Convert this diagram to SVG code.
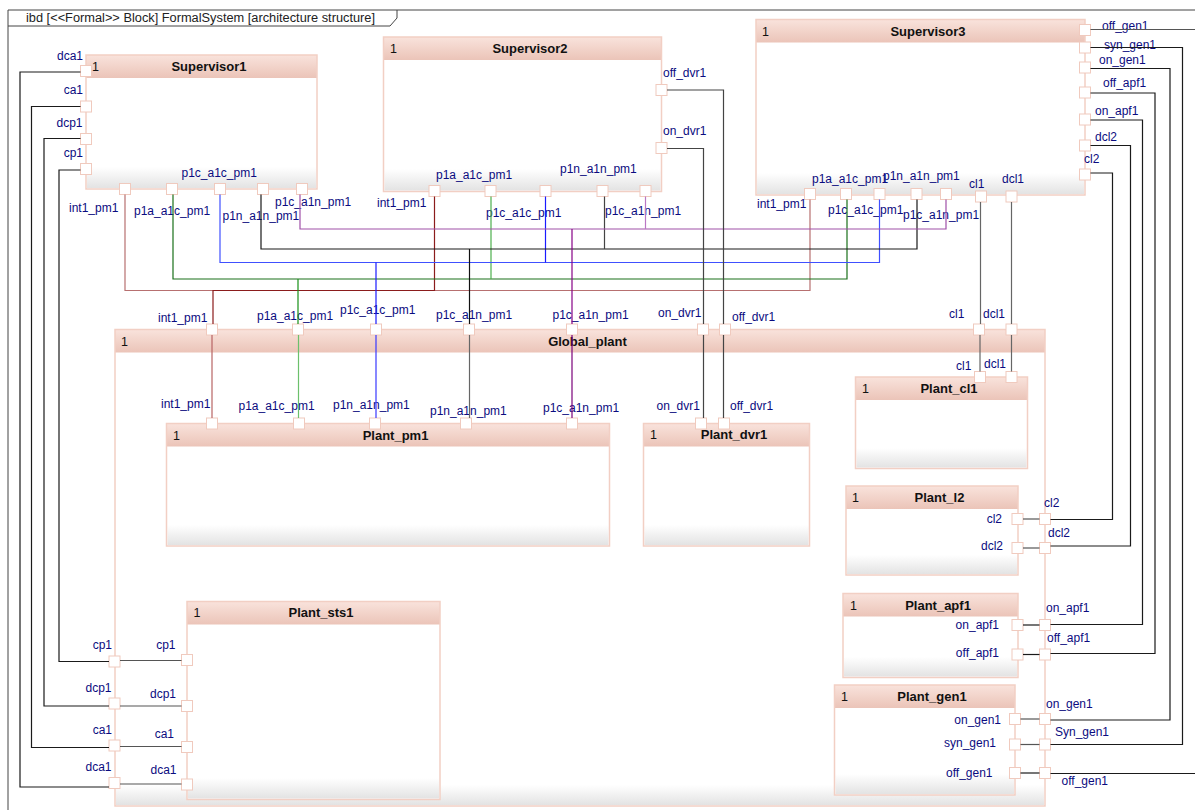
<svg xmlns="http://www.w3.org/2000/svg" width="1195" height="810" viewBox="0 0 1195 810">
<defs>
<linearGradient id="hdr" x1="0" y1="0" x2="0" y2="1"><stop offset="0" stop-color="#f9e3dc"/><stop offset="1" stop-color="#ebc4b8"/></linearGradient>
<linearGradient id="foot" x1="0" y1="0" x2="0" y2="1"><stop offset="0" stop-color="#ffffff"/><stop offset="1" stop-color="#e3e3e3"/></linearGradient>
<style>
.body{fill:#fff;stroke:none}
.foot{fill:url(#foot);stroke:none}
.hdr{fill:url(#hdr);stroke:none}
.outline{fill:none;stroke:#f2cfc4;stroke-width:1.5}
.port{fill:#fff;stroke:#f0cabe;stroke-width:1}
.num{font-family:"Liberation Sans",Arial,sans-serif;font-size:12.5px;fill:#111}
.title{font-family:"Liberation Sans",Arial,sans-serif;font-size:13px;font-weight:bold;fill:#111;text-anchor:middle}
.lbl{font-family:"Liberation Sans",Arial,sans-serif;font-size:12px;fill:#0b0b80}
.end{text-anchor:end}
.w{fill:none;stroke-width:1.2}
.k{stroke:#1a1a1a}
.g{stroke:#555}
</style>
</defs>
<rect x="0" y="0" width="1195" height="810" fill="#fff"/>

<g id="frame">
<path d="M8,810 V10 H1195" fill="none" stroke="#444" stroke-width="1"/>
<path d="M8,26 H390 L397,18 V10" fill="none" stroke="#444" stroke-width="1"/>
<text x="26" y="21.5" font-family="Liberation Sans, Arial, sans-serif" font-size="12.5" fill="#222" textLength="349" lengthAdjust="spacingAndGlyphs">ibd [&lt;&lt;Formal&gt;&gt; Block] FormalSystem [architecture structure]</text>
</g>

<g id="Global_plant">
<rect class="body" x="115" y="329.5" width="930" height="476.5"/>
<rect class="foot" x="116" y="785" width="928" height="20"/>
<rect class="hdr" x="115" y="329.5" width="930" height="23"/>
<rect class="outline" x="115" y="329.5" width="930" height="476.5"/>
<text class="num" x="121" y="346">1</text>
<text class="title" x="587.5" y="346">Global_plant</text>
<rect class="port" x="206.5" y="324" width="11" height="11"/>
<rect class="port" x="292.5" y="324" width="11" height="11"/>
<rect class="port" x="370.5" y="324" width="11" height="11"/>
<rect class="port" x="463.5" y="324" width="11" height="11"/>
<rect class="port" x="566.5" y="324" width="11" height="11"/>
<rect class="port" x="697.5" y="324" width="11" height="11"/>
<rect class="port" x="719.5" y="324" width="11" height="11"/>
<rect class="port" x="973.5" y="324" width="11" height="11"/>
<rect class="port" x="1006" y="324" width="11" height="11"/>
<rect class="port" x="109" y="656" width="11" height="11"/>
<rect class="port" x="109" y="698" width="11" height="11"/>
<rect class="port" x="109" y="740" width="11" height="11"/>
<rect class="port" x="109" y="777.5" width="11" height="11"/>
<rect class="port" x="1039.5" y="513.5" width="11" height="11"/>
<rect class="port" x="1039.5" y="542.5" width="11" height="11"/>
<rect class="port" x="1039.5" y="619.5" width="11" height="11"/>
<rect class="port" x="1039.5" y="649" width="11" height="11"/>
<rect class="port" x="1039.5" y="713.5" width="11" height="11"/>
<rect class="port" x="1039.5" y="739" width="11" height="11"/>
<rect class="port" x="1039.5" y="767.5" width="11" height="11"/>
<text class="lbl" x="158" y="322">int1_pm1</text>
<text class="lbl" x="257" y="320">p1a_a1c_pm1</text>
<text class="lbl" x="340" y="313.5">p1c_a1c_pm1</text>
<text class="lbl" x="436" y="319">p1c_a1n_pm1</text>
<text class="lbl" x="552.5" y="319">p1c_a1n_pm1</text>
<text class="lbl" x="658" y="317">on_dvr1</text>
<text class="lbl" x="732" y="320.5">off_dvr1</text>
<text class="lbl" x="949" y="317.5">cl1</text>
<text class="lbl" x="983" y="317.5">dcl1</text>
<text class="lbl end" x="112" y="649">cp1</text>
<text class="lbl end" x="111.5" y="692">dcp1</text>
<text class="lbl end" x="112" y="734">ca1</text>
<text class="lbl end" x="111.5" y="771">dca1</text>
<text class="lbl" x="1044" y="507">cl2</text>
<text class="lbl" x="1048" y="536.5">dcl2</text>
<text class="lbl" x="1046" y="611.5">on_apf1</text>
<text class="lbl" x="1047" y="642">off_apf1</text>
<text class="lbl" x="1046" y="707.5">on_gen1</text>
<text class="lbl" x="1055" y="735.5">Syn_gen1</text>
<text class="lbl" x="1061.5" y="784.5">off_gen1</text>
</g>

<g id="Supervisor1">
<rect class="body" x="86" y="55" width="231" height="134"/>
<rect class="foot" x="87" y="167" width="229" height="21"/>
<rect class="hdr" x="86" y="55" width="231" height="23"/>
<rect class="outline" x="86" y="55" width="231" height="134"/>
<text class="num" x="92" y="70.5">1</text>
<text class="title" x="209" y="70.5">Supervisor1</text>
<rect class="port" x="80.5" y="65.5" width="11" height="11"/>
<rect class="port" x="80.5" y="101" width="11" height="11"/>
<rect class="port" x="80.5" y="133.5" width="11" height="11"/>
<rect class="port" x="80.5" y="163.5" width="11" height="11"/>
<rect class="port" x="119.5" y="183.5" width="11" height="11"/>
<rect class="port" x="166.5" y="183.5" width="11" height="11"/>
<rect class="port" x="214.5" y="183.5" width="11" height="11"/>
<rect class="port" x="257.5" y="183.5" width="11" height="11"/>
<rect class="port" x="296.5" y="183.5" width="11" height="11"/>
<text class="lbl end" x="83" y="59.5">dca1</text>
<text class="lbl end" x="83" y="94">ca1</text>
<text class="lbl end" x="82.5" y="127">dcp1</text>
<text class="lbl end" x="83" y="157">cp1</text>
<text class="lbl" x="181.5" y="177">p1c_a1c_pm1</text>
<text class="lbl" x="69" y="212">int1_pm1</text>
<text class="lbl" x="134" y="214.5">p1a_a1c_pm1</text>
<text class="lbl" x="222.5" y="220">p1n_a1n_pm1</text>
<text class="lbl" x="275" y="206">p1c_a1n_pm1</text>
</g>

<g id="Supervisor2">
<rect class="body" x="383.5" y="37" width="278" height="154.5"/>
<rect class="foot" x="384.5" y="169" width="276" height="21.5"/>
<rect class="hdr" x="383.5" y="37" width="278" height="23"/>
<rect class="outline" x="383.5" y="37" width="278" height="154.5"/>
<text class="num" x="390" y="52.5">1</text>
<text class="title" x="530" y="52.5">Supervisor2</text>
<rect class="port" x="656" y="84.5" width="11" height="11"/>
<rect class="port" x="656" y="142.5" width="11" height="11"/>
<rect class="port" x="429" y="185.5" width="11" height="11"/>
<rect class="port" x="485" y="185.5" width="11" height="11"/>
<rect class="port" x="540" y="185.5" width="11" height="11"/>
<rect class="port" x="597" y="185.5" width="11" height="11"/>
<rect class="port" x="640" y="185.5" width="11" height="11"/>
<text class="lbl" x="663" y="77">off_dvr1</text>
<text class="lbl" x="663" y="135">on_dvr1</text>
<text class="lbl" x="436" y="179">p1a_a1c_pm1</text>
<text class="lbl" x="560" y="173">p1n_a1n_pm1</text>
<text class="lbl" x="377" y="206.5">int1_pm1</text>
<text class="lbl" x="486" y="216.5">p1c_a1c_pm1</text>
<text class="lbl" x="605" y="215">p1c_a1n_pm1</text>
</g>

<g id="Supervisor3">
<rect class="body" x="756" y="19.5" width="329" height="175.5"/>
<rect class="foot" x="757" y="173" width="327" height="21"/>
<rect class="hdr" x="756" y="19.5" width="329" height="23"/>
<rect class="outline" x="756" y="19.5" width="329" height="175.5"/>
<text class="num" x="762" y="35.5">1</text>
<text class="title" x="928" y="35.5">Supervisor3</text>
<rect class="port" x="1079.5" y="24.5" width="11" height="11"/>
<rect class="port" x="1079.5" y="42" width="11" height="11"/>
<rect class="port" x="1079.5" y="62" width="11" height="11"/>
<rect class="port" x="1079.5" y="87" width="11" height="11"/>
<rect class="port" x="1079.5" y="114" width="11" height="11"/>
<rect class="port" x="1079.5" y="140" width="11" height="11"/>
<rect class="port" x="1079.5" y="169" width="11" height="11"/>
<rect class="port" x="804.5" y="188.5" width="11" height="11"/>
<rect class="port" x="840.5" y="188.5" width="11" height="11"/>
<rect class="port" x="874" y="188.5" width="11" height="11"/>
<rect class="port" x="911" y="188.5" width="11" height="11"/>
<rect class="port" x="940.5" y="188.5" width="11" height="11"/>
<rect class="port" x="975.5" y="191" width="11" height="11"/>
<rect class="port" x="1006" y="191" width="11" height="11"/>
<text class="lbl" x="1102" y="29.5">off_gen1</text>
<text class="lbl" x="1104" y="48.5">syn_gen1</text>
<text class="lbl" x="1099" y="63.5">on_gen1</text>
<text class="lbl" x="1103" y="86.5">off_apf1</text>
<text class="lbl" x="1095" y="114.5">on_apf1</text>
<text class="lbl" x="1095" y="141">dcl2</text>
<text class="lbl" x="1084" y="162.5">cl2</text>
<text class="lbl" x="812" y="183">p1a_a1c_pm1</text>
<text class="lbl" x="883" y="180">p1n_a1n_pm1</text>
<text class="lbl" x="969" y="187.5">cl1</text>
<text class="lbl" x="1002" y="182.5">dcl1</text>
<text class="lbl" x="757" y="207.5">int1_pm1</text>
<text class="lbl" x="828" y="213.5">p1c_a1c_pm1</text>
<text class="lbl" x="903" y="219">p1c_a1n_pm1</text>
</g>

<g id="Plant_pm1">
<rect class="body" x="166.5" y="423.5" width="443" height="122.5"/>
<rect class="foot" x="167.5" y="525" width="441" height="20"/>
<rect class="hdr" x="166.5" y="423.5" width="443" height="23"/>
<rect class="outline" x="166.5" y="423.5" width="443" height="122.5"/>
<text class="num" x="173" y="439.5">1</text>
<text class="title" x="395.5" y="439.5">Plant_pm1</text>
<rect class="port" x="206.5" y="418" width="11" height="11"/>
<rect class="port" x="293.5" y="418" width="11" height="11"/>
<rect class="port" x="369.5" y="418" width="11" height="11"/>
<rect class="port" x="460.5" y="418" width="11" height="11"/>
<rect class="port" x="566.5" y="418" width="11" height="11"/>
<text class="lbl" x="161" y="408">int1_pm1</text>
<text class="lbl" x="238.5" y="409.5">p1a_a1c_pm1</text>
<text class="lbl" x="333" y="408.5">p1n_a1n_pm1</text>
<text class="lbl" x="430" y="414.5">p1n_a1n_pm1</text>
<text class="lbl" x="543" y="411.5">p1c_a1n_pm1</text>
</g>

<g id="Plant_dvr1">
<rect class="body" x="643.5" y="423.5" width="166" height="122.5"/>
<rect class="foot" x="644.5" y="525" width="164" height="20"/>
<rect class="hdr" x="643.5" y="423.5" width="166" height="23"/>
<rect class="outline" x="643.5" y="423.5" width="166" height="122.5"/>
<text class="num" x="650" y="439">1</text>
<text class="title" x="734" y="439">Plant_dvr1</text>
<rect class="port" x="695.5" y="418" width="11" height="11"/>
<rect class="port" x="718.5" y="418" width="11" height="11"/>
<text class="lbl" x="656.5" y="409.5">on_dvr1</text>
<text class="lbl" x="730" y="409.5">off_dvr1</text>
</g>

<g id="Plant_cl1">
<rect class="body" x="855.5" y="377" width="172" height="91.5"/>
<rect class="foot" x="856.5" y="448" width="170" height="19.5"/>
<rect class="hdr" x="855.5" y="377" width="172" height="23"/>
<rect class="outline" x="855.5" y="377" width="172" height="91.5"/>
<text class="num" x="862" y="393">1</text>
<text class="title" x="949" y="393">Plant_cl1</text>
<rect class="port" x="974.5" y="371.5" width="11" height="11"/>
<rect class="port" x="1006" y="371.5" width="11" height="11"/>
<text class="lbl" x="956" y="370">cl1</text>
<text class="lbl" x="984" y="367.5">dcl1</text>
</g>

<g id="Plant_l2">
<rect class="body" x="846" y="486" width="172" height="89"/>
<rect class="foot" x="847" y="555" width="170" height="19"/>
<rect class="hdr" x="846" y="486" width="172" height="23"/>
<rect class="outline" x="846" y="486" width="172" height="89"/>
<text class="num" x="852" y="501.5">1</text>
<text class="title" x="939.5" y="501.5">Plant_l2</text>
<rect class="port" x="1012" y="513.5" width="11" height="11"/>
<rect class="port" x="1012" y="542.5" width="11" height="11"/>
<text class="lbl end" x="1002" y="523">cl2</text>
<text class="lbl end" x="1003" y="549.5">dcl2</text>
</g>

<g id="Plant_apf1">
<rect class="body" x="843" y="593.5" width="175" height="84"/>
<rect class="foot" x="844" y="657" width="173" height="19.5"/>
<rect class="hdr" x="843" y="593.5" width="175" height="23"/>
<rect class="outline" x="843" y="593.5" width="175" height="84"/>
<text class="num" x="850" y="609.5">1</text>
<text class="title" x="938" y="609.5">Plant_apf1</text>
<rect class="port" x="1012" y="619.5" width="11" height="11"/>
<rect class="port" x="1012" y="649" width="11" height="11"/>
<text class="lbl end" x="999" y="628.5">on_apf1</text>
<text class="lbl end" x="999" y="657">off_apf1</text>
</g>

<g id="Plant_gen1">
<rect class="body" x="834.5" y="685" width="180.5" height="110"/>
<rect class="foot" x="835.5" y="774" width="178.5" height="20"/>
<rect class="hdr" x="834.5" y="685" width="180.5" height="23"/>
<rect class="outline" x="834.5" y="685" width="180.5" height="110"/>
<text class="num" x="841" y="700.5">1</text>
<text class="title" x="932" y="700.5">Plant_gen1</text>
<rect class="port" x="1009.5" y="713.5" width="11" height="11"/>
<rect class="port" x="1009.5" y="739" width="11" height="11"/>
<rect class="port" x="1009.5" y="767.5" width="11" height="11"/>
<text class="lbl end" x="1001" y="723.5">on_gen1</text>
<text class="lbl end" x="996" y="746.5">syn_gen1</text>
<text class="lbl end" x="992.5" y="777">off_gen1</text>
</g>

<g id="Plant_sts1">
<rect class="body" x="187" y="601.5" width="253" height="198"/>
<rect class="foot" x="188" y="778" width="251" height="20.5"/>
<rect class="hdr" x="187" y="601.5" width="253" height="23"/>
<rect class="outline" x="187" y="601.5" width="253" height="198"/>
<text class="num" x="193.5" y="616.5">1</text>
<text class="title" x="321" y="616.5">Plant_sts1</text>
<rect class="port" x="181.5" y="654.5" width="11" height="11"/>
<rect class="port" x="181.5" y="700.5" width="11" height="11"/>
<rect class="port" x="181.5" y="741.5" width="11" height="11"/>
<rect class="port" x="181.5" y="779" width="11" height="11"/>
<text class="lbl end" x="175.5" y="649">cp1</text>
<text class="lbl end" x="176" y="697.5">dcp1</text>
<text class="lbl end" x="174" y="738">ca1</text>
<text class="lbl end" x="176.5" y="774">dca1</text>
</g>

<g id="connectors">
<!-- left side -->
<path class="w k" d="M80.5,72 H20 V787 H109"/>
<path class="w k" d="M80.5,106.5 H31.5 V747.5 H109"/>
<path class="w k" d="M80.5,138.5 H44 V706 H109"/>
<path class="w k" d="M80.5,170 H59 V661.5 H109"/>
<path class="w g" stroke-width="1.6" d="M120,784 H181.5"/>
<path class="w g" d="M120,746.5 H181.5"/>
<path class="w g" d="M120,706 H181.5"/>
<path class="w g" d="M120,660.5 H181.5"/>
<!-- bus lines -->
<path class="w" stroke="#b77070" stroke-width="1.6" d="M125,194.5 V290.5 H810 V199.5"/>
<path class="w" stroke="#8b1c1c" stroke-width="1.8" d="M434.5,196.5 V290.5 H213 V324"/>
<path class="w" stroke="#b86464" stroke-width="1.6" d="M212,335 V418"/>
<path class="w" stroke="#1a701a" d="M173,194.5 V279 H847 V199.5"/>
<path class="w" stroke="#4caf4c" d="M491,196.5 V279"/>
<path class="w" stroke="#169016" stroke-width="1.8" d="M298,279 V324"/>
<path class="w" stroke="#6cc06c" stroke-width="1.6" d="M298.5,335 V418"/>
<path class="w" stroke="#4050ff" stroke-width="1.4" d="M220,194.5 V262.5 H879.5 V199.5"/>
<path class="w" stroke="#1a1aff" d="M545.5,196.5 V262.5"/>
<path class="w" stroke="#1a1aff" stroke-width="1.4" d="M376,262.5 V324"/>
<path class="w" stroke="#3838ff" d="M376,335 V418"/>
<path class="w k" d="M261,194.5 V249 H917 V199.5"/>
<path class="w" stroke="#444" d="M604.5,196.5 V249"/>
<path class="w" stroke="#111" stroke-width="2" d="M469.5,249 V324"/>
<path class="w" stroke="#666" stroke-width="1.8" d="M469.5,335 V418"/>
<path class="w" stroke="#a050a8" d="M300,194.5 V229 H946 V199.5"/>
<path class="w" stroke="#bb77c4" d="M645.5,196.5 V229"/>
<path class="w" stroke="#860086" stroke-width="1.3" d="M572,229 V324"/>
<path class="w" stroke="#7a007a" d="M572,335 V418"/>
<!-- dvr -->
<path class="w" stroke="#444" stroke-width="1.3" d="M667,148.5 H703.5 V324"/>
<path class="w" stroke="#444" stroke-width="1.3" d="M703.5,335 V418"/>
<path class="w" stroke="#444" stroke-width="1.3" d="M667,90 H723.5 V324"/>
<path class="w" stroke="#444" stroke-width="1.3" d="M723.5,335 V418"/>
<!-- cl1 / dcl1 -->
<path class="w" stroke="#666" stroke-width="1.6" d="M980.5,202 V324"/>
<path class="w" stroke="#666" stroke-width="1.6" d="M980,335 V371.5"/>
<path class="w" stroke="#666" stroke-width="1.6" d="M1011.5,202 V324"/>
<path class="w" stroke="#666" stroke-width="1.6" d="M1011.5,335 V371.5"/>
<!-- right side -->
<path class="w k" d="M1090.5,173 H1112.5 V519.5 H1050.5"/>
<path class="w g" d="M1023,519 H1039.5"/>
<path class="w k" d="M1090.5,145.5 H1130.5 V546 H1050.5"/>
<path class="w g" d="M1023,548 H1039.5"/>
<path class="w k" d="M1090.5,120 H1142.5 V624.5 H1050.5"/>
<path class="w k" d="M1023,625 H1039.5"/>
<path class="w k" d="M1090.5,93 H1155 V653.5 H1050.5"/>
<path class="w k" d="M1023,654.5 H1039.5"/>
<path class="w k" d="M1090.5,68.5 H1170 V720 H1050.5"/>
<path class="w g" d="M1020.5,719 H1039.5"/>
<path class="w k" d="M1090.5,47.5 H1182.5 V744.5 H1050.5"/>
<path class="w g" d="M1020.5,744.5 H1039.5"/>
<path class="w g" d="M1090.5,29.5 H1195"/>
<path class="w k" d="M1050.5,773.5 H1195"/>
<path class="w k" d="M1020.5,773 H1039.5"/>
</g>
</svg>
